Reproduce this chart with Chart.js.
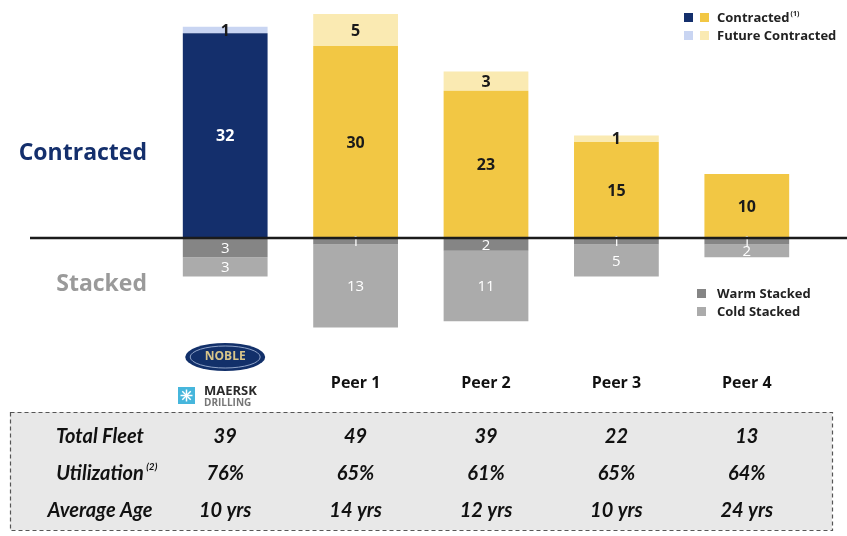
<!DOCTYPE html>
<html>
<head>
<meta charset="utf-8">
<script src="https://cdn.jsdelivr.net/npm/chart.js@4.4.0/dist/chart.umd.min.js"></script>
<style>
  html, body { margin: 0; padding: 0; background: #fff; }
  #wrap { position: relative; width: 847px; height: 536px; }
</style>
</head>
<body>
<div id="wrap"><canvas id="fleetChart" width="847" height="536"></canvas></div>
<script>
// dati del grafico
var categories = ["Noble", "Peer 1", "Peer 2", "Peer 3", "Peer 4"];
var contracted = [32, 30, 23, 15, 10];
var futureContracted = [1, 5, 3, 1, 0];
var warmStacked = [-3, -1, -2, -1, -1];
var coldStacked = [-3, -13, -11, -5, -2];

// tabella sotto il grafico
var rowLabels = ["Total Fleet", "Utilization", "Average Age"];
var totalFleet = ["39", "49", "39", "22", "13"];
var utilization = ["76%", "65%", "61%", "65%", "64%"];
var averageAge = ["10 yrs", "14 yrs", "12 yrs", "10 yrs", "24 yrs"];

var NAVY = '#142f6c';
var FONT = '"Open Sans", sans-serif';
var TFONT = 'Lato, sans-serif';

function perBar(nobleColor, peerColor) {
    return categories.map(function (c, i) { return i === 0 ? nobleColor : peerColor; });
}

// etichette dentro le barre
var barLabels = {
    id: 'barLabels',
    afterDatasetsDraw: function (chart) {
        var ctx = chart.ctx;
        ctx.save();
        ctx.textAlign = 'center';
        ctx.textBaseline = 'middle';
        chart.data.datasets.forEach(function (ds, di) {
            var meta = chart.getDatasetMeta(di);
            meta.data.forEach(function (bar, i) {
                var v = ds.data[i];
                if (!v) return;
                var cy = (bar.y + bar.base) / 2;
                if (di < 2) {
                    ctx.font = 'bold 16px ' + FONT;
                    ctx.fillStyle = (di === 0 && i === 0) ? '#ffffff' : '#1a1a1a';
                } else {
                    ctx.font = '15px ' + FONT;
                    ctx.fillStyle = '#ffffff';
                }
                ctx.fillText(String(Math.abs(v)), bar.x, cy + 1);
            });
        });
        ctx.restore();
    }
};

// linea dello zero, testi a sinistra, legende, categorie, tabella
var decorations = {
    id: 'decorations',
    afterDraw: function (chart) {
        var ctx = chart.ctx;
        var x = chart.scales.x, y = chart.scales.y;
        var y0 = y.getPixelForValue(0);
        ctx.save();

        ctx.strokeStyle = '#1b1b1b';
        ctx.lineWidth = 2.5;
        ctx.beginPath();
        ctx.moveTo(30, y0);
        ctx.lineTo(847, y0);
        ctx.stroke();

        ctx.textBaseline = 'middle';
        ctx.textAlign = 'right';
        ctx.font = 'bold 23px ' + FONT;
        ctx.fillStyle = NAVY;
        ctx.fillText('Contracted', 147, 153);
        ctx.fillStyle = '#9a9a9a';
        ctx.fillText('Stacked', 147, 284);

        // legenda in alto
        ctx.textAlign = 'left';
        ctx.font = 'bold 13px ' + FONT;
        var sq = 9;
        ctx.fillStyle = NAVY; ctx.fillRect(684, 13, sq, sq);
        ctx.fillStyle = '#f2c744'; ctx.fillRect(700, 13, sq, sq);
        ctx.fillStyle = '#c9d5f2'; ctx.fillRect(684, 31, sq, sq);
        ctx.fillStyle = '#faeab2'; ctx.fillRect(700, 31, sq, sq);
        ctx.fillStyle = '#222';
        ctx.fillText('Contracted', 717, 18);
        var w = ctx.measureText('Contracted').width;
        ctx.font = 'bold 7px ' + FONT;
        ctx.fillText('(1)', 717 + w + 1, 14);
        ctx.font = 'bold 13px ' + FONT;
        ctx.fillText('Future Contracted', 717, 36);

        // legenda stacked
        ctx.fillStyle = '#858585'; ctx.fillRect(697, 289, sq, sq);
        ctx.fillStyle = '#ababab'; ctx.fillRect(697, 307, sq, sq);
        ctx.fillStyle = '#222';
        ctx.fillText('Warm Stacked', 717, 294);
        ctx.fillText('Cold Stacked', 717, 312);

        // etichette categorie
        ctx.textAlign = 'center';
        ctx.font = 'bold 16px ' + FONT;
        ctx.fillStyle = '#111';
        categories.forEach(function (c, i) {
            if (i === 0) return;
            ctx.fillText(c, x.getPixelForValue(i), 383);
        });

        // logo Noble / Maersk
        var cx = x.getPixelForValue(0);
        ctx.fillStyle = '#12306a';
        ctx.beginPath();
        ctx.ellipse(cx, 357, 40, 14, 0, 0, Math.PI * 2);
        ctx.fill();
        ctx.strokeStyle = '#8fa3c8';
        ctx.lineWidth = 1;
        ctx.beginPath();
        ctx.ellipse(cx, 357, 35, 11, 0, 0, Math.PI * 2);
        ctx.stroke();
        ctx.fillStyle = '#d8c58a';
        ctx.font = 'bold 12px ' + FONT;
        ctx.fillText('NOBLE', cx, 357);
        ctx.fillStyle = '#46b6dc';
        ctx.fillRect(178, 387, 17, 17);
        ctx.strokeStyle = '#fff';
        ctx.lineWidth = 1.5;
        for (var k = 0; k < 4; k++) {
            var a = k * Math.PI / 4;
            ctx.beginPath();
            ctx.moveTo(186.5 - 6 * Math.cos(a), 395.5 - 6 * Math.sin(a));
            ctx.lineTo(186.5 + 6 * Math.cos(a), 395.5 + 6 * Math.sin(a));
            ctx.stroke();
        }
        ctx.textAlign = 'left';
        ctx.fillStyle = '#2a2a2a';
        ctx.font = 'bold 13px ' + FONT;
        ctx.fillText('MAERSK', 204, 391);
        ctx.fillStyle = '#777';
        ctx.font = 'bold 10px ' + FONT;
        ctx.fillText('DRILLING', 204, 403);

        // tabella
        ctx.fillStyle = '#e8e8e8';
        ctx.fillRect(10, 412, 822, 118);
        ctx.setLineDash([4, 3]);
        ctx.strokeStyle = '#555';
        ctx.lineWidth = 1.2;
        ctx.strokeRect(10.5, 412.5, 822, 118);
        ctx.setLineDash([]);

        var rows = [totalFleet, utilization, averageAge];
        var rowY = [437, 474, 511];
        ctx.textAlign = 'center';
        ctx.fillStyle = '#111';
        rows.forEach(function (row, r) {
            ctx.font = 'italic bold 20px ' + TFONT;
            var lbl = rowLabels[r];
            ctx.fillText(lbl, 100, rowY[r]);
            if (r === 1) {
                var lw = ctx.measureText(lbl).width;
                ctx.font = 'italic bold 10px ' + TFONT;
                ctx.fillText('(2)', 100 + lw / 2 + 8, rowY[r] - 7);
            }
            ctx.font = 'italic bold 20px ' + TFONT;
            row.forEach(function (v, i) {
                ctx.fillText(v, x.getPixelForValue(i), rowY[r]);
            });
        });

        ctx.restore();
    }
};

var fleetData = {
    labels: categories,
    datasets: [
        { label: 'Contracted', data: contracted, backgroundColor: perBar(NAVY, '#f2c744') },
        { label: 'Future Contracted', data: futureContracted, backgroundColor: perBar('#c9d5f2', '#faeab2') },
        { label: 'Warm Stacked', data: warmStacked, backgroundColor: '#858585' },
        { label: 'Cold Stacked', data: coldStacked, backgroundColor: '#ababab' }
    ]
};

new Chart(document.getElementById('fleetChart').getContext('2d'), {
    type: 'bar',
    data: fleetData,
    options: {
        responsive: false,
        animation: false,
        layout: { padding: { left: 160, right: 35, top: 1.2, bottom: 170 } },
        datasets: { bar: { categoryPercentage: 1, barPercentage: 0.65 } },
        plugins: { legend: { display: false }, tooltip: { enabled: false } },
        scales: {
            x: { stacked: true, display: false },
            y: { stacked: true, display: false, min: -20, max: 37 }
        }
    },
    plugins: [barLabels, decorations]
});
</script>
</body>
</html>
